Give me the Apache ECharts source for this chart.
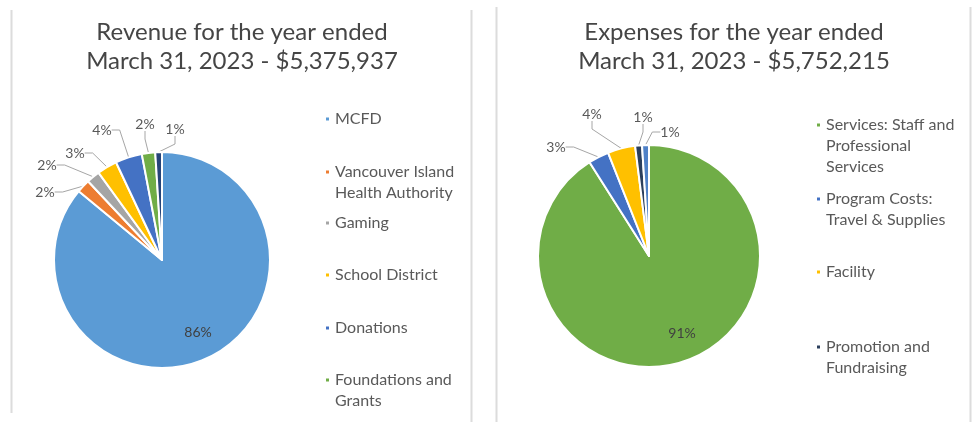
<!DOCTYPE html>
<html><head><meta charset="utf-8">
<script src="https://cdn.jsdelivr.net/npm/echarts@6/dist/echarts.min.js"></script>
<style>html,body{margin:0;padding:0;background:#fff}#c{width:975px;height:422px}</style>
</head><body><div id="c"></div>
<script>
// ---------- DATA ----------
const revenueTitle = 'Revenue for the year ended\nMarch 31, 2023 - $5,375,937';
const expenseTitle = 'Expenses for the year ended\nMarch 31, 2023 - $5,752,215';

const revenueCategories = ['MCFD', 'Vancouver Island Health Authority', 'Gaming', 'School District', 'Donations', 'Foundations and Grants', 'Other revenue'];
const revenueLegendLabels = ['MCFD', 'Vancouver Island\nHealth Authority', 'Gaming', 'School District', 'Donations', 'Foundations and\nGrants'];
const revenuePercents = [86, 2, 2, 3, 4, 2, 1];

const expenseCategories = ['Services: Staff and Professional Services', 'Program Costs: Travel & Supplies', 'Facility', 'Promotion and Fundraising', 'Other expenses'];
const expenseLegendLabels = ['Services: Staff and\nProfessional\nServices', 'Program Costs:\nTravel & Supplies', 'Facility', 'Promotion and\nFundraising'];
const expensePercents = [91, 3, 4, 1, 1];

// ---------- STYLE / LAYOUT ----------
const revenueColors = ['#5B9BD5', '#ED7D31', '#A5A5A5', '#FFC000', '#4472C4', '#70AD47', '#264478'];
const expenseColors = ['#70AD47', '#4472C4', '#FFC000', '#2b3f5c', '#4f81c7'];
const FONT = 'Lato, "Open Sans", sans-serif';
const TEXT = '#595959';
const LH = 21;
const revLegendCenters = [119, 172, 223, 275, 328, 380];
const expLegendCenters = [125, 199, 272, 347];
// label centres (layout only)
const revLabelPos = [[198, 332], [45, 192], [47, 165], [75, 153], [102, 130], [145, 124], [175, 129]];
const expLabelPos = [[682, 333], [556, 147], [592, 114], [643, 117], [670, 132]];

function legendItems(names, labels, centers, left) {
  return labels.map((lab, i) => {
    const n = lab.split('\n').length;
    const shown = '\n'.repeat(n - 1) + lab;
    return {
      show: true, orient: 'vertical', left: left, top: centers[i] - (2 * n - 1) * LH / 2,
      padding: 0, icon: 'rect', itemWidth: 5, itemHeight: 5, selectedMode: false,
      data: [names[i]], formatter: () => shown,
      textStyle: { fontFamily: FONT, fontSize: 16, color: TEXT, lineHeight: LH }
    };
  });
}

function pieSeries(cats, vals, colors, center, radius, labelPos) {
  return {
    type: 'pie', center: center, radius: radius, startAngle: 90, clockwise: true,
    animation: false, avoidLabelOverlap: false,
    data: cats.map((c, i) => ({
      name: c, value: vals[i], itemStyle: { color: colors[i] },
      label: i === 0 ? { position: 'inside', color: '#404040' } : undefined,
      labelLine: i === 0 ? { show: false } : undefined
    })),
    itemStyle: { borderColor: '#fff', borderWidth: 2 },
    label: { formatter: p => Math.round(p.percent) + '%', fontFamily: FONT, fontSize: 14, color: TEXT },
    labelLine: { length: 12, length2: 8, lineStyle: { color: '#a6a6a6', width: 1 } },
    labelLayout: p => {
      const pos = labelPos[p.dataIndex];
      return { x: pos[0], y: pos[1], align: 'center', verticalAlign: 'middle' };
    },
    emphasis: { disabled: true }
  };
}

const chart = echarts.init(document.getElementById('c'));
chart.setOption({
  backgroundColor: '#fff',
  title: [
    { text: revenueTitle, left: 242, top: 18, textAlign: 'center', padding: 0,
      textStyle: { fontFamily: FONT, fontSize: 24, fontWeight: 'normal', color: '#454545', lineHeight: 29 } },
    { text: expenseTitle, left: 734, top: 18, textAlign: 'center', padding: 0,
      textStyle: { fontFamily: FONT, fontSize: 24, fontWeight: 'normal', color: '#454545', lineHeight: 29 } }
  ],
  legend: legendItems(revenueCategories, revenueLegendLabels, revLegendCenters, 324)
    .concat(legendItems(expenseCategories, expenseLegendLabels, expLegendCenters, 815)),
  series: [
    pieSeries(revenueCategories, revenuePercents, revenueColors, [162, 260], 108, revLabelPos),
    pieSeries(expenseCategories, expensePercents, expenseColors, [649, 256], 111, expLabelPos)
  ],
  graphic: [
    { type: 'line', shape: { x1: 11.5, y1: 10, x2: 11.5, y2: 413 }, style: { stroke: '#dcdcdc', lineWidth: 2 } },
    { type: 'line', shape: { x1: 471.5, y1: 10, x2: 471.5, y2: 422 }, style: { stroke: '#dcdcdc', lineWidth: 2 } },
    { type: 'line', shape: { x1: 496.5, y1: 7, x2: 496.5, y2: 422 }, style: { stroke: '#dcdcdc', lineWidth: 2 } },
    { type: 'line', shape: { x1: 970.5, y1: 7, x2: 970.5, y2: 422 }, style: { stroke: '#dcdcdc', lineWidth: 2 } }
  ]
});
</script></body></html>
